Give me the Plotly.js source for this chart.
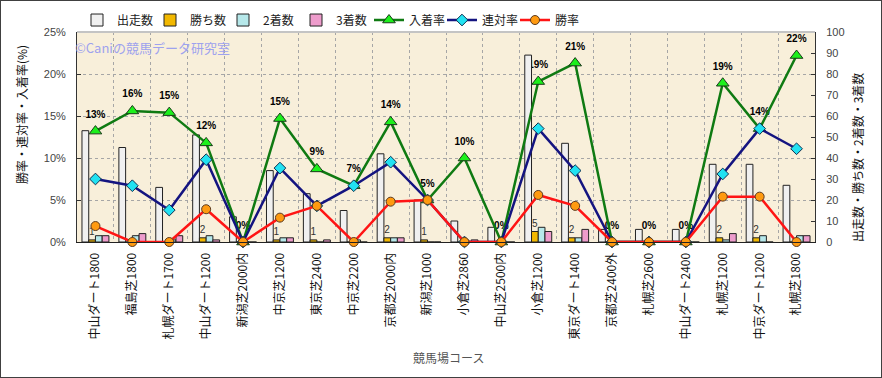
<!DOCTYPE html>
<html>
<head>
<meta charset="utf-8">
<script src="https://cdn.plot.ly/plotly-3.0.1.min.js"></script>
<style>
  html, body { margin: 0; padding: 0; background: #ffffff; }
  #wrap { position: relative; width: 882px; height: 378px; }
  #chart { position: absolute; left: 0; top: 0; width: 882px; height: 378px; }
  #frame { position: absolute; left: 0; top: 0; width: 880px; height: 376px; border: 1px solid #404040; pointer-events: none; }
</style>
</head>
<body>
<div id="wrap"><div id="chart"></div><div id="frame"></div></div>
<script>
// ---- data ----
const courses = ['中山ダート1800','福島芝1800','札幌ダート1700','中山ダート1200','新潟芝2000内','中京芝1200','東京芝2400','中京芝2200','京都芝2000内','新潟芝1000','小倉芝2860','中山芝2500内','小倉芝1200','東京ダート1400','京都芝2400外','札幌芝2600','中山ダート2400','札幌芝1200','中京ダート1200','札幌芝1800'];
const runs    = [53,45,26,51,12,34,23,15,42,20,10,7,89,47,6,6,6,37,37,27];
const wins    = [1,0,0,2,0,1,1,0,2,1,0,0,5,2,0,0,0,2,2,0];
const seconds = [3,3,1,3,0,2,0,1,2,0,0,0,7,2,0,0,0,1,3,3];
const thirds  = [3,4,3,1,0,2,1,0,2,0,1,0,5,6,0,0,0,4,0,3];
const winRate    = [1.9,0,0,3.9,0,2.9,4.3,0,4.8,5.0,0,0,5.6,4.3,0,0,0,5.4,5.4,0];
const rentaiRate = [7.5,6.7,3.8,9.8,0,8.8,4.3,6.7,9.5,5.0,0,0,13.5,8.5,0,0,0,8.1,13.5,11.1];
const top3Rate   = [13.2,15.6,15.4,11.8,0,14.7,8.7,6.7,14.3,5.0,10.0,0,19.1,21.3,0,0,0,18.9,13.5,22.2];
const top3Labels = ['13%','16%','15%','12%','0%','15%','9%','7%','14%','5%','10%','0%','19%','21%','0%','0%','0%','19%','14%','22%'];

const JP = '"Noto Sans CJK JP", "Noto Sans", sans-serif';
const NUM = '"Liberation Sans", Arial, sans-serif';
const barLine = { color: '#222222', width: 1 };

const traces = [
  {
    x: courses, y: top3Rate, xaxis: 'x', yaxis: 'y',
    mode: 'markers+text', text: top3Labels, textposition: 'top center',
    textfont: { family: '"Liberation Sans Narrow", "Liberation Sans", sans-serif', size: 10, color: '#000000', weight: 'bold' },
    marker: { size: 16, opacity: 0 }, showlegend: false, hoverinfo: 'skip', cliponaxis: false
  },
  { type: 'bar', name: '出走数', x: courses, y: runs, xaxis: 'x', yaxis: 'y2',
    marker: { color: '#f0f0f0', line: barLine } },
  { type: 'bar', name: '勝ち数', x: courses, y: wins, xaxis: 'x', yaxis: 'y2',
    marker: { color: '#f2b800', line: barLine },
    text: wins.map(v => v > 0 ? String(v) : ''), textposition: 'outside', constraintext: 'none', cliponaxis: false,
    textfont: { family: NUM, size: 10, color: '#333333' } },
  { type: 'bar', name: '2着数', x: courses, y: seconds, xaxis: 'x', yaxis: 'y2',
    marker: { color: '#b6e8ea', line: barLine } },
  { type: 'bar', name: '3着数', x: courses, y: thirds, xaxis: 'x', yaxis: 'y2',
    marker: { color: '#ee9ccc', line: barLine } },
  { type: 'scatter', mode: 'lines+markers', name: '入着率', x: courses, y: top3Rate, xaxis: 'x', yaxis: 'y3',
    line: { color: '#0f7a12', width: 2.5 }, cliponaxis: false,
    marker: { symbol: 'triangle-up', size: 11, color: '#1cf01c', line: { color: '#1a3a1a', width: 1 } } },
  { type: 'scatter', mode: 'lines+markers', name: '連対率', x: courses, y: rentaiRate, xaxis: 'x', yaxis: 'y3',
    line: { color: '#141480', width: 2.5 }, cliponaxis: false,
    marker: { symbol: 'diamond', size: 9, color: '#22e2f2', line: { color: '#103050', width: 1 } } },
  { type: 'scatter', mode: 'lines+markers', name: '勝率', x: courses, y: winRate, xaxis: 'x', yaxis: 'y3',
    line: { color: '#ff1414', width: 2.5 }, cliponaxis: false,
    marker: { symbol: 'circle', size: 9, color: '#ff9a10', line: { color: '#5a3a20', width: 1 } } }
];

const layout = {
  width: 882, height: 378,
  margin: { l: 77, r: 67, t: 32, b: 136, autoexpand: false },
  paper_bgcolor: '#ffffff', plot_bgcolor: '#f8efda',
  font: { family: JP, size: 12, color: '#222' },
  barmode: 'group', bargap: 0.27, bargroupgap: 0,
  showlegend: true,
  legend: { orientation: 'h', x: 0, xanchor: 'left', y: 1.057, yanchor: 'middle',
    font: { family: JP, size: 12, color: '#222' }, bgcolor: 'rgba(0,0,0,0)', itemwidth: 30, traceorder: 'normal',
    entrywidth: 28, entrywidthmode: 'pixels' },
  xaxis: {
    type: 'category', range: [-0.5, 19.5], tickson: 'boundaries',
    showgrid: true, gridcolor: '#a6a6a6', griddash: 'dot', gridwidth: 1,
    ticks: '', tickangle: -90, ticklabelstandoff: 5,
    tickfont: { family: JP, size: 12, color: '#111' },
    showline: true, linecolor: '#222', linewidth: 1, automargin: false,
    title: { text: '' }
  },
  yaxis: {
    range: [0, 25], dtick: 5, ticksuffix: '%', ticks: 'inside', ticklen: 4, tickcolor: '#333',
    showline: true, linecolor: '#333', linewidth: 1,
    showgrid: true, gridcolor: '#a6a6a6', griddash: 'dot', gridwidth: 1, zeroline: false,
    tickfont: { family: NUM, size: 11, color: '#444' }, ticklabelstandoff: 8, automargin: false,
    title: { text: '' }
  },
  yaxis2: {
    overlaying: 'y', side: 'right', range: [0, 100], dtick: 10, ticks: 'inside', ticklen: 4, tickcolor: '#333',
    showline: true, linecolor: '#333', linewidth: 1, showgrid: false, zeroline: false,
    tickfont: { family: NUM, size: 11, color: '#444' }, ticklabelstandoff: 8, automargin: false,
    title: { text: '' }
  },
  yaxis3: { overlaying: 'y', range: [0, 25], visible: false, showgrid: false, zeroline: false },
  shapes: [
    { type: 'line', xref: 'paper', yref: 'paper', x0: 0, x1: 1, y0: 1, y1: 1, line: { color: '#c4c4c4', width: 2 } }
  ],
  annotations: [
    { xref: 'paper', yref: 'paper', x: -0.005, xanchor: 'left', y: 0.924, yanchor: 'middle',
      text: '©Caniの競馬データ研究室', showarrow: false, font: { family: JP, size: 13, color: '#9ea2ee' } },
    { xref: 'paper', yref: 'paper', x: (448 - 77) / 738, xanchor: 'center', y: (242 - 357) / 210, yanchor: 'middle',
      text: '競馬場コース', showarrow: false, font: { family: JP, size: 12, color: '#555' } },
    { xref: 'paper', yref: 'paper', x: (21 - 77) / 738, xanchor: 'center', y: (242 - 115) / 210, yanchor: 'middle',
      text: '勝率・連対率・入着率(%)', textangle: -90, showarrow: false, font: { family: JP, size: 12, color: '#111' } },
    { xref: 'paper', yref: 'paper', x: (857 - 77) / 738, xanchor: 'center', y: (242 - 158) / 210, yanchor: 'middle',
      text: '出走数・勝ち数・2着数・3着数', textangle: -90, showarrow: false, font: { family: JP, size: 12, color: '#111' } }
  ]
};

Plotly.newPlot('chart', traces, layout, { displayModeBar: false, staticPlot: true });
</script>
</body>
</html>
